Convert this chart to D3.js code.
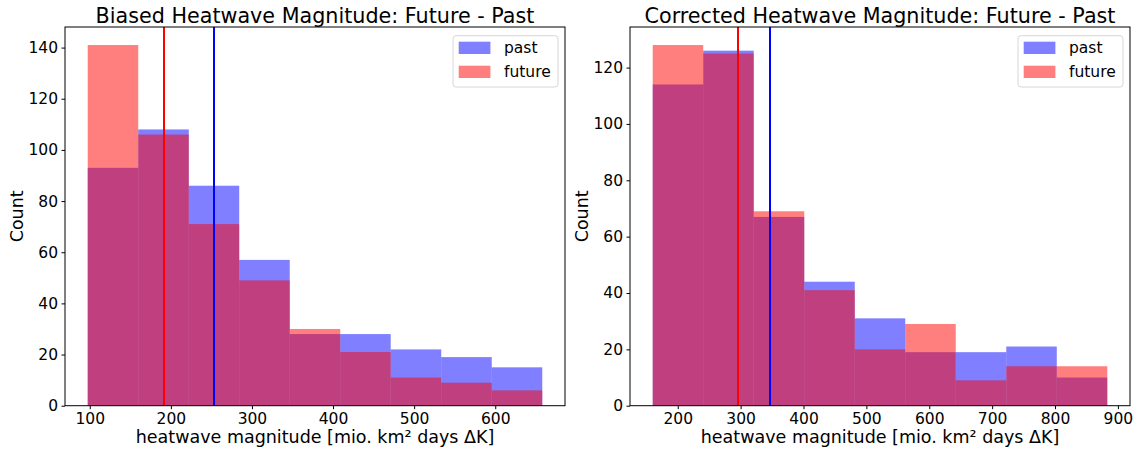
<!DOCTYPE html>
<html><head><meta charset="utf-8">
<script src="https://cdn.jsdelivr.net/npm/d3@7"></script>
<style>
body{margin:0;background:#fff;}
text{font-family:"DejaVu Sans",sans-serif;fill:#000;}
</style></head>
<body><svg id="c" width="1144" height="453"></svg>
<script>
// ---- data ----
const biasedEdges = [97.5, 159.8, 222.1, 284.3, 346.6, 408.9, 471.1, 533.4, 595.7, 658.0];
const biasedPast   = [93, 108, 86, 57, 28, 28, 22, 19, 15];
const biasedFuture = [141, 106, 71, 49, 30, 21, 11, 9, 6];
const biasedMeanPast = 252.7, biasedMeanFuture = 191.1;
const biasedXTicks = [100, 200, 300, 400, 500, 600];
const biasedYTicks = [0, 20, 40, 60, 80, 100, 120, 140];

const corrEdges = [160.2, 240.5, 320.8, 401.2, 481.5, 561.8, 642.1, 722.5, 802.8, 883.1];
const corrPast   = [114, 126, 67, 44, 31, 19, 19, 21, 10];
const corrFuture = [128, 125, 69, 41, 20, 29, 9, 14, 14];
const corrMeanPast = 346, corrMeanFuture = 295.5;
const corrXTicks = [200, 300, 400, 500, 600, 700, 800, 900];
const corrYTicks = [0, 20, 40, 60, 80, 100, 120];

const titles = ["Biased Heatwave Magnitude: Future - Past", "Corrected Heatwave Magnitude: Future - Past"];
const xLabel = "heatwave magnitude [mio. km\u00b2 days \u0394K]";
const yLabel = "Count";
const seriesNames = ["past", "future"];

// ---- drawing ----
const svg = d3.select("#c");
const plotTop = 27, plotBottom = 405.7;

function panel(left, right, edges, past, future, meanPast, meanFuture, xTicks, yTicks, title, ylabX) {
  const lo = edges[0], hi = edges[edges.length-1], pad = (hi-lo)*0.05;
  const x = d3.scaleLinear().domain([lo-pad, hi+pad]).range([left, right]);
  const ymax = d3.max(past.concat(future))*1.05;
  const y = d3.scaleLinear().domain([0, ymax]).range([plotBottom, plotTop]);
  const g = svg.append("g");
  const bins = (vals) => vals.map((v,i)=>({x0:edges[i], x1:edges[i+1], v}));
  g.selectAll("rect.past").data(bins(past)).join("rect")
    .attr("x", d=>x(d.x0)).attr("width", d=>x(d.x1)-x(d.x0))
    .attr("y", d=>y(d.v)).attr("height", d=>y(0)-y(d.v))
    .attr("fill","blue").attr("fill-opacity",0.5);
  g.selectAll("rect.future").data(bins(future)).join("rect")
    .attr("x", d=>x(d.x0)).attr("width", d=>x(d.x1)-x(d.x0))
    .attr("y", d=>y(d.v)).attr("height", d=>y(0)-y(d.v))
    .attr("fill","red").attr("fill-opacity",0.5);
  [[meanFuture,"red"],[meanPast,"blue"]].forEach(([m,c])=>{
    const px = Math.round(x(m));
    g.append("line").attr("x1",px).attr("x2",px).attr("y1",plotTop).attr("y2",plotBottom)
      .attr("stroke",c).attr("stroke-width",2);
  });
  g.append("rect").attr("x",left).attr("y",plotTop).attr("width",right-left).attr("height",plotBottom-plotTop)
    .attr("fill","none").attr("stroke","#000").attr("stroke-width",1);
  const xa = g.append("g").attr("transform",`translate(0,${plotBottom})`)
    .call(d3.axisBottom(x).tickValues(xTicks).tickSize(3.5).tickPadding(3.5).tickFormat(d3.format("d")));
  const ya = g.append("g").attr("transform",`translate(${left},0)`)
    .call(d3.axisLeft(y).tickValues(yTicks).tickSize(3.5).tickPadding(3.5).tickFormat(d3.format("d")));
  [xa,ya].forEach(a=>{a.select(".domain").remove();
    a.selectAll("text").attr("font-size","15.5px").attr("font-family","DejaVu Sans");
    a.selectAll("line").attr("stroke","#000");});
  g.append("text").attr("x",(left+right)/2).attr("y",23).attr("text-anchor","middle")
    .attr("font-size","20.7px").text(title);
  g.append("text").attr("x",(left+right)/2).attr("y",443).attr("text-anchor","middle")
    .attr("font-size","17.5px").text(xLabel);
  g.append("text").attr("transform",`translate(${ylabX},${(plotTop+plotBottom)/2}) rotate(-90)`)
    .attr("text-anchor","middle").attr("font-size","17.5px").text(yLabel);
  const lx = right-112, ly = plotTop+8.7;
  const lg = g.append("g");
  lg.append("rect").attr("x",lx).attr("y",ly).attr("width",105).attr("height",51.3)
    .attr("rx",3).attr("fill","#fff").attr("fill-opacity",0.8).attr("stroke","#d6d6d6");
  [["blue",0],["red",1]].forEach(([c,i])=>{
    lg.append("rect").attr("x",lx+5.7).attr("y",ly+6+i*24).attr("width",31.7).attr("height",12.3)
      .attr("fill",c).attr("fill-opacity",0.5);
    lg.append("text").attr("x",lx+51).attr("y",ly+17.6+i*24).attr("font-size","15.5px").text(seriesNames[i]);
  });
}

panel(65, 565, biasedEdges, biasedPast, biasedFuture, biasedMeanPast, biasedMeanFuture, biasedXTicks, biasedYTicks, titles[0], 23);
panel(630, 1130, corrEdges, corrPast, corrFuture, corrMeanPast, corrMeanFuture, corrXTicks, corrYTicks, titles[1], 588);
</script></body></html>
